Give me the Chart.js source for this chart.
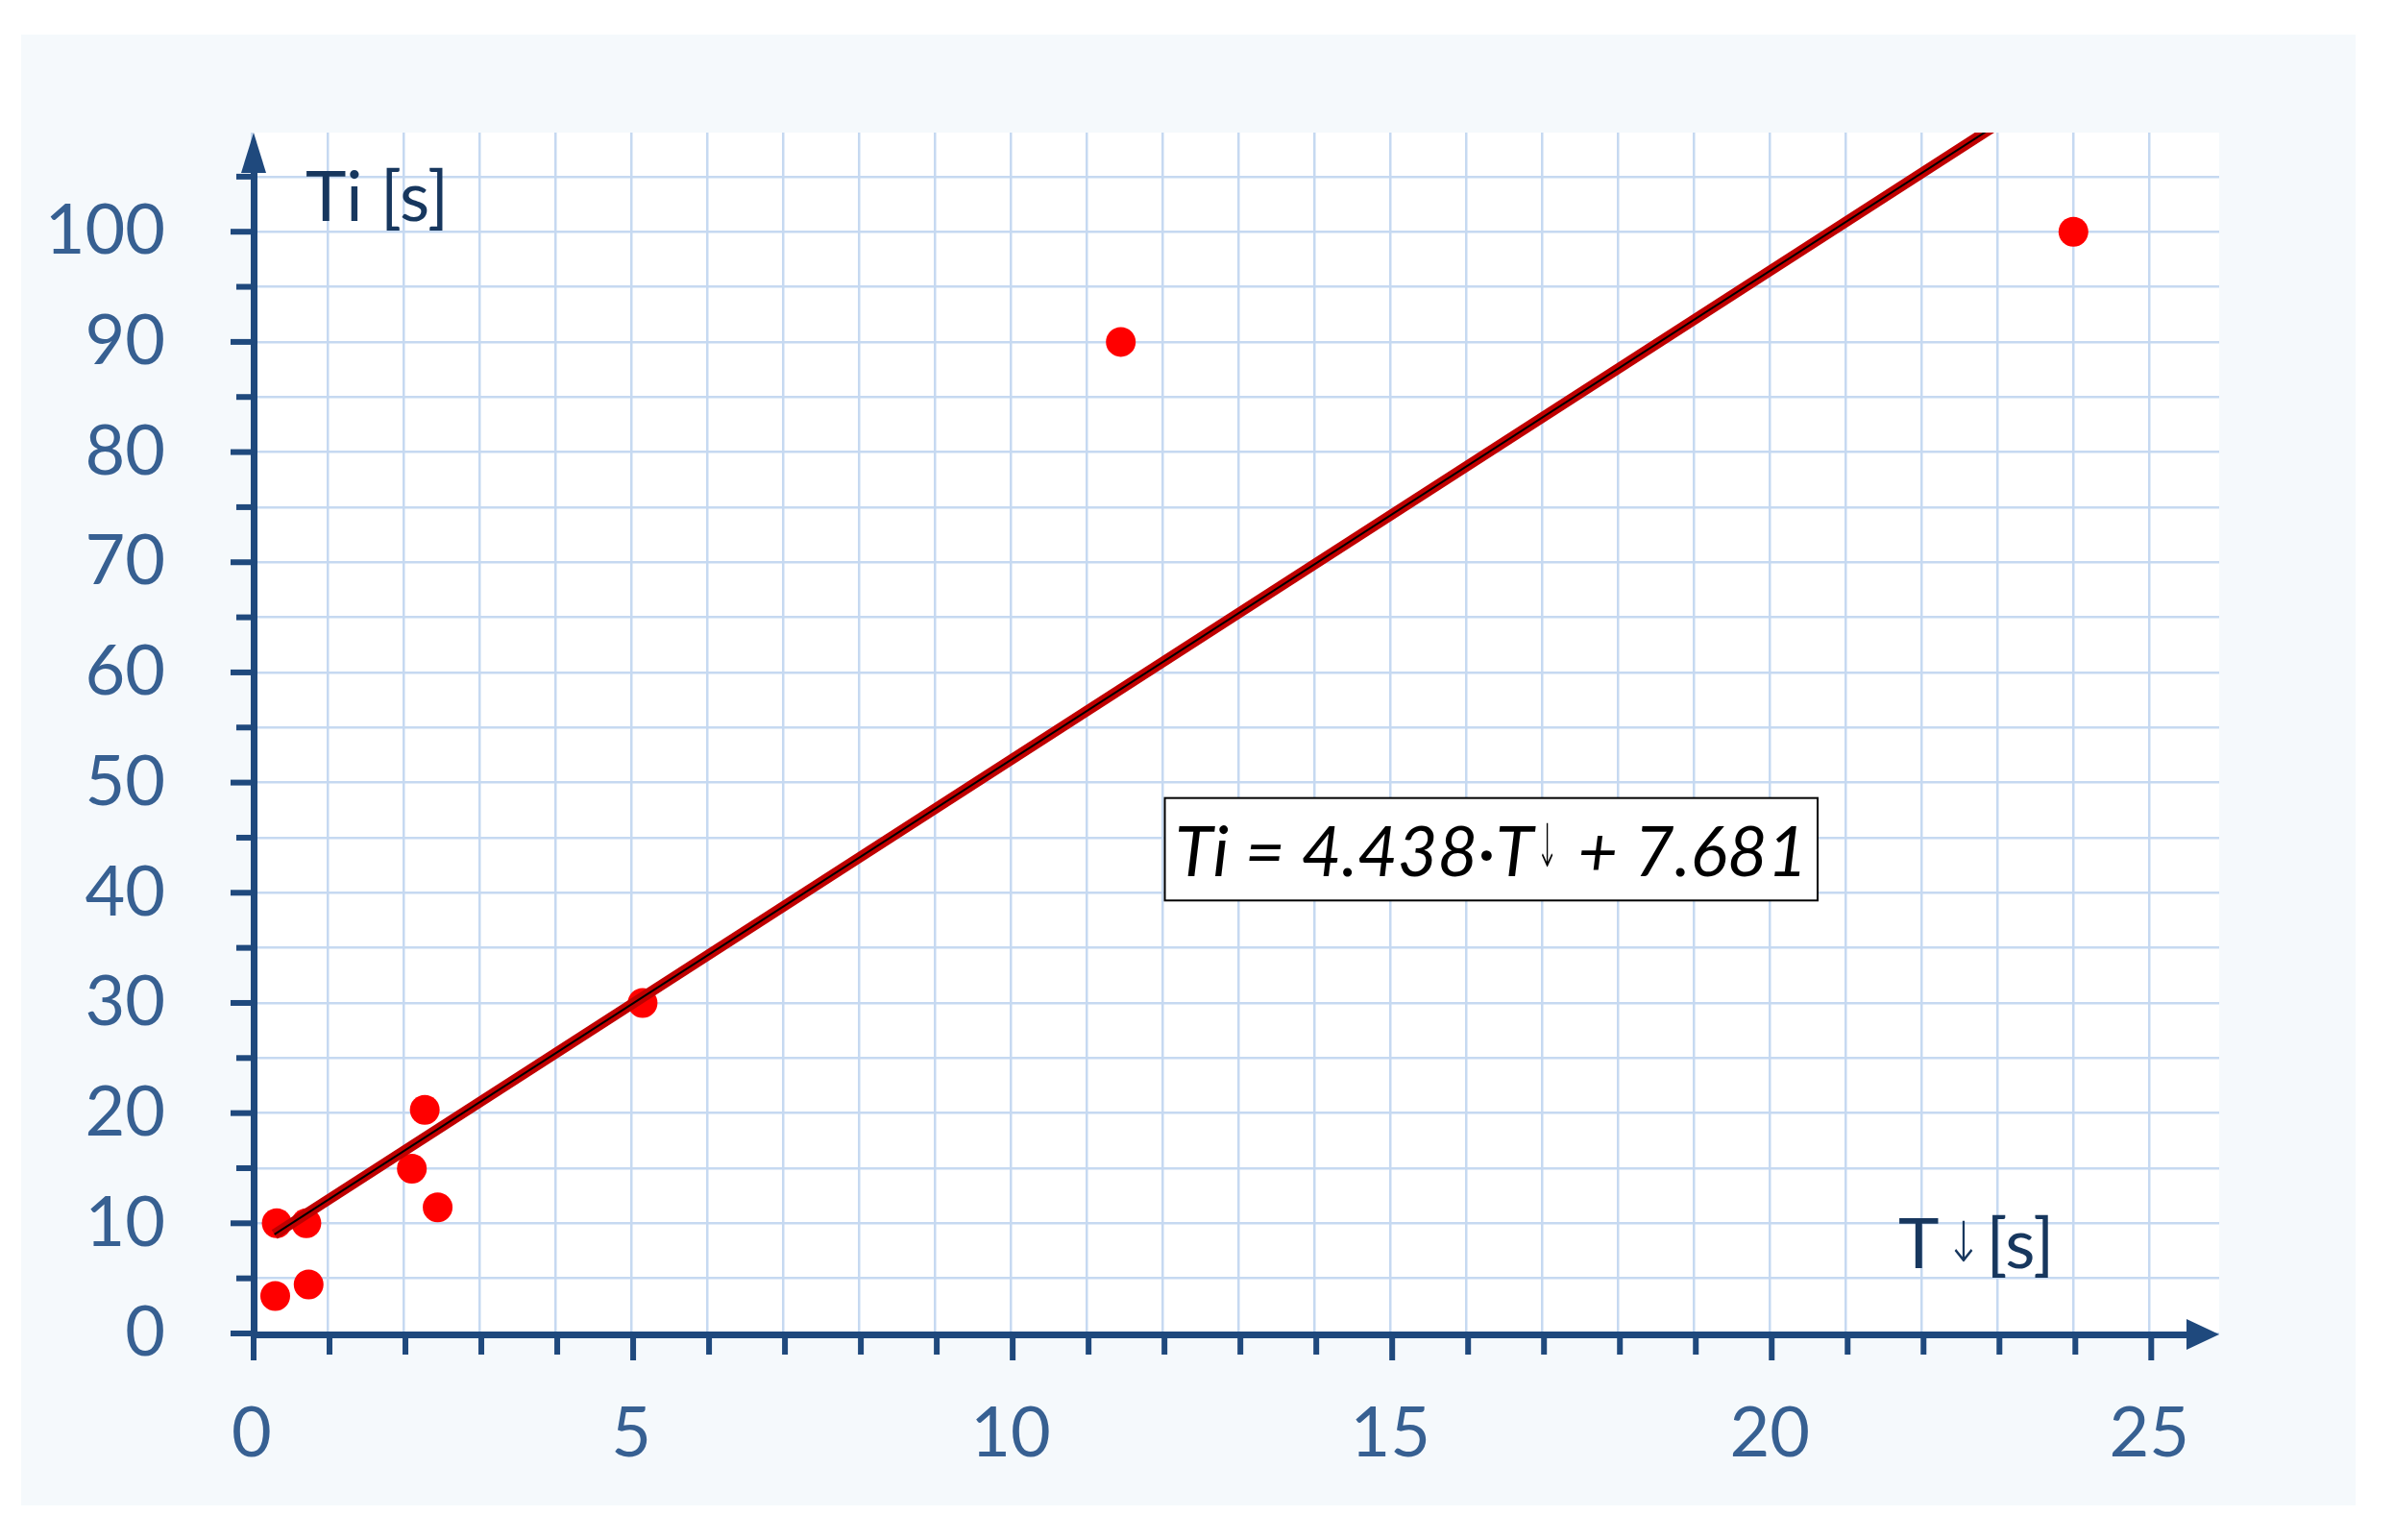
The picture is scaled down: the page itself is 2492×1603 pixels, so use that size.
<!DOCTYPE html>
<html>
<head>
<meta charset="utf-8">
<script src="https://cdn.jsdelivr.net/npm/chart.js@4.4.0/dist/chart.umd.min.js"></script>
<style>
  html, body { margin: 0; padding: 0; background: #ffffff; }
  canvas { display: block; }
</style>
</head>
<body>
<canvas id="chart" width="2492" height="1603"></canvas>
<script>
// measured points: T↓ [s] against Ti [s]
const pointsX = [0.33, 0.72, 0.31, 0.75, 2.11, 2.28, 2.45, 5.15, 11.45, 24.0];
const pointsY = [10, 10, 3.4, 4.45, 14.95, 20.3, 11.45, 30, 90, 100];

// fitted line, end points (top end is cut by the plot area)
const fitX = [0.3, 23.0];
const fitY = [9.0, 109.76];

const xTickLabels = [0, 5, 10, 15, 20, 25];
const yTickLabels = [0, 10, 20, 30, 40, 50, 60, 70, 80, 90, 100];

const xTitle = ['T', '↓', '[s]'];
const yTitle = 'Ti [s]';
const equation = ['Ti = 4.438·T', '↓', ' + 7.681'];

const AXIS = '#1f497d';
const LABEL = '#376092';
const TITLE = '#17375e';
const GRID = '#c6d9f1';

const toPoints = (xs, ys) => xs.map((x, i) => ({ x: x, y: ys[i] }));

// draws a glyph squeezed sideways (used for the thin arrows)
function squeezed(ctx, text, x, y, sx) {
    ctx.save();
    ctx.translate(x, y);
    ctx.scale(sx, 1);
    ctx.fillText(text, 0, 0);
    const w = ctx.measureText(text).width * sx;
    ctx.restore();
    return w;
}

const frame = {
    id: 'frame',
    beforeDraw(chart) {
        const { ctx, chartArea: a } = chart;
        ctx.save();
        ctx.fillStyle = '#ffffff';
        ctx.fillRect(0, 0, chart.width, chart.height);
        ctx.fillStyle = '#f5f9fc';
        ctx.fillRect(22, 36, 2430, 1531);
        ctx.fillStyle = '#ffffff';
        ctx.fillRect(a.left, a.top, a.right - a.left, a.bottom - a.top);
        ctx.restore();
    },
    afterDraw(chart) {
        const { ctx, chartArea: a, scales: { x, y } } = chart;
        const ax = a.left + 2;
        const ay = a.bottom + 1;
        ctx.save();
        ctx.fillStyle = AXIS;

        // axis lines
        ctx.fillRect(ax - 3, a.top + 30, 7, ay - a.top - 26);
        ctx.fillRect(ax - 3, ay - 3, a.right - ax - 20, 7);

        // y ticks every 5, longer at 10
        for (let v = 0; v <= 105; v += 5) {
            const py = y.getPixelForValue(v);
            const len = v % 10 === 0 ? 24 : 18;
            ctx.fillRect(ax - len, py - 3, len, 6);
        }
        // x ticks every 1, longer at 5
        for (let v = 0; v <= 25; v++) {
            const px = x.getPixelForValue(v) + 2;
            const len = v % 5 === 0 ? 27 : 21;
            ctx.fillRect(px - 3, ay, 6, len);
        }

        // arrow heads
        ctx.beginPath();
        ctx.moveTo(ax, a.top);
        ctx.lineTo(ax + 13, a.top + 42);
        ctx.lineTo(ax - 13, a.top + 42);
        ctx.closePath();
        ctx.fill();
        ctx.beginPath();
        ctx.moveTo(a.right, ay);
        ctx.lineTo(a.right - 34, ay - 16);
        ctx.lineTo(a.right - 34, ay + 16);
        ctx.closePath();
        ctx.fill();

        // axis titles
        ctx.fillStyle = TITLE;
        ctx.textBaseline = 'alphabetic';
        ctx.textAlign = 'left';
        ctx.font = '72px Lato';
        ctx.fillText(yTitle, 318, 230);
        let tx = 1976;
        ctx.fillText(xTitle[0], tx, 1320);
        tx += ctx.measureText(xTitle[0]).width + 6;
        ctx.font = '200 58px "DejaVu Sans"';
        tx += squeezed(ctx, xTitle[1], tx, 1313, 0.8) + 4;
        ctx.font = '72px Lato';
        ctx.fillText(xTitle[2], tx, 1320);

        // equation box
        const bx1 = x.getPixelForValue(12.03), bx2 = x.getPixelForValue(20.63);
        const by1 = y.getPixelForValue(48.6), by2 = y.getPixelForValue(39.3);
        ctx.fillStyle = '#ffffff';
        ctx.fillRect(bx1, by1, bx2 - bx1, by2 - by1);
        ctx.strokeStyle = '#000000';
        ctx.lineWidth = 2;
        ctx.strokeRect(bx1, by1, bx2 - bx1, by2 - by1);

        const eqFont = 'italic 72px Lato';
        const arFont = '200 62px "DejaVu Sans"';
        const arScale = 0.45;
        ctx.font = eqFont;
        const w0 = ctx.measureText(equation[0]).width;
        const w2 = ctx.measureText(equation[2]).width;
        ctx.font = arFont;
        const w1 = ctx.measureText(equation[1]).width * arScale + 6;
        let ex = (bx1 + bx2) / 2 - (w0 + w1 + w2) / 2;
        const base = by2 - 25;
        ctx.fillStyle = '#000000';
        ctx.font = eqFont;
        ctx.fillText(equation[0], ex, base);
        ex += w0 + 3;
        ctx.font = arFont;
        squeezed(ctx, equation[1], ex, base - 10, arScale);
        ex += w1 - 3;
        ctx.font = eqFont;
        ctx.fillText(equation[2], ex, base);
        ctx.restore();
    }
};

new Chart(document.getElementById('chart'), {
    type: 'scatter',
    data: {
        datasets: [
            {
                type: 'line',
                data: toPoints(fitX, fitY),
                borderColor: '#000000',
                borderWidth: 2,
                pointRadius: 0,
                borderCapStyle: 'butt',
                clip: 0
            },
            {
                type: 'line',
                data: toPoints(fitX, fitY),
                borderColor: '#c00000',
                borderWidth: 11,
                pointRadius: 0,
                borderCapStyle: 'butt',
                clip: 0
            },
            {
                data: toPoints(pointsX, pointsY),
                backgroundColor: '#ff0000',
                borderWidth: 0,
                pointRadius: 15.5,
                pointHoverRadius: 15.5,
                clip: false
            }
        ]
    },
    options: {
        responsive: false,
        animation: false,
        events: [],
        layout: { padding: { left: 0, top: 138, right: 182, bottom: 0 } },
        plugins: { legend: { display: false }, tooltip: { enabled: false } },
        scales: {
            x: {
                type: 'linear',
                min: 0,
                max: 25.92,
                afterFit(scale) { scale.height = 215; },
                afterBuildTicks(scale) {
                    const ticks = [];
                    for (let v = 0; v <= 25; v++) ticks.push({ value: v });
                    scale.ticks = ticks;
                },
                border: { display: false },
                grid: { color: GRID, lineWidth: 2.5, drawTicks: false },
                ticks: {
                    autoSkip: false,
                    maxRotation: 0,
                    padding: 62,
                    color: LABEL,
                    font: { family: 'Lato', size: 72 },
                    callback: v => xTickLabels.includes(Math.round(v)) ? String(Math.round(v)) : ''
                }
            },
            y: {
                type: 'linear',
                min: 0,
                max: 109,
                afterFit(scale) { scale.width = 262; },
                afterBuildTicks(scale) {
                    const ticks = [];
                    for (let v = 0; v <= 105; v += 5) ticks.push({ value: v });
                    scale.ticks = ticks;
                },
                border: { display: false },
                grid: { color: GRID, lineWidth: 2.5, drawTicks: false },
                ticks: {
                    autoSkip: false,
                    padding: 90,
                    color: LABEL,
                    font: { family: 'Lato', size: 72 },
                    callback: v => yTickLabels.includes(Math.round(v)) ? String(Math.round(v)) : ''
                }
            }
        }
    },
    plugins: [frame]
});
</script>
</body>
</html>
